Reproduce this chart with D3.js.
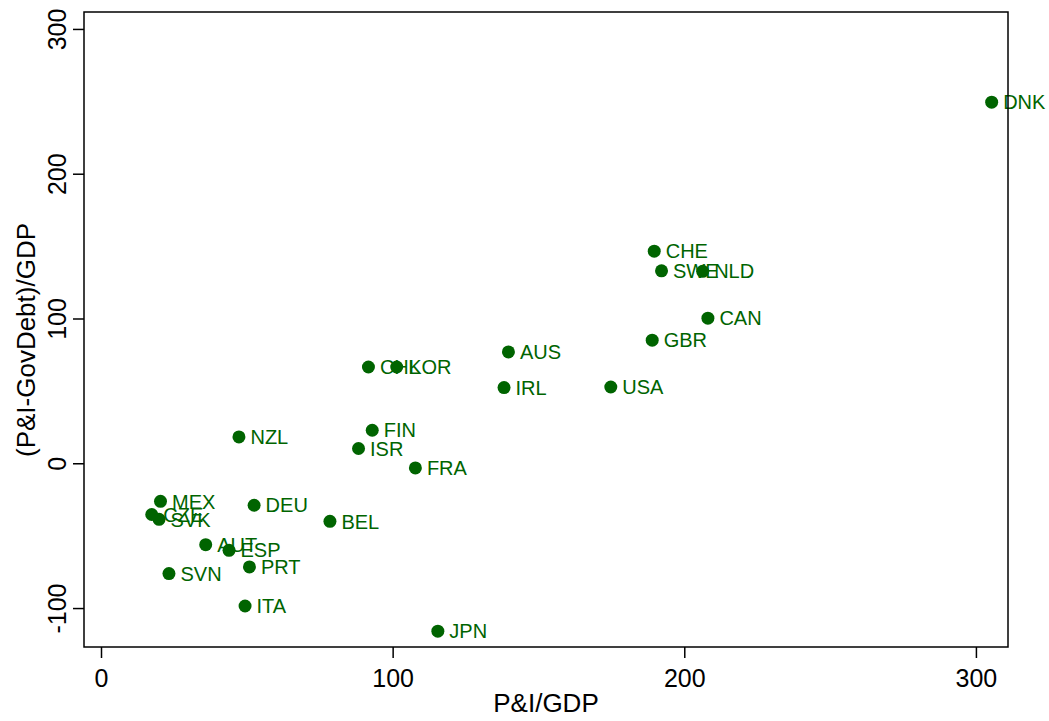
<!DOCTYPE html>
<html>
<head>
<meta charset="utf-8">
<script src="https://d3js.org/d3.v7.min.js"></script>
<style>
  body { margin: 0; background: #fff; }
  text { font-family: "Liberation Sans", Arial, sans-serif; }
</style>
</head>
<body>
<div id="chart"></div>
<script>
// country codes and their values
const countries = ["DNK", "CHE", "SWE", "NLD", "CAN", "GBR", "AUS", "USA", "IRL",
  "CHL", "KOR", "NZL", "FIN", "ISR", "FRA", "MEX", "CZE", "SVK", "DEU", "BEL",
  "AUT", "ESP", "PRT", "SVN", "ITA", "JPN"];
const piGdp = [305.4, 189.7, 192.2, 206.3, 208.1, 189.0, 139.7, 174.8, 138.2,
  91.7, 101.4, 47.3, 93.0, 88.3, 107.8, 20.4, 17.4, 19.9, 52.5, 78.5,
  35.9, 43.9, 50.9, 23.3, 49.4, 115.5];
const netGdp = [249.4, 146.5, 132.9, 132.6, 100.2, 85.0, 76.9, 52.7, 52.3,
  66.5, 66.5, 18.2, 22.8, 10.2, -3.2, -26.3, -35.4, -38.7, -29.0, -40.1,
  -56.2, -60.1, -71.6, -76.2, -98.6, -116.0];
const xTicks = [0, 100, 200, 300];
const yTicks = [-100, 0, 100, 200, 300];

const width = 1049, height = 721;
const frame = {left: 84, right: 1008, top: 12, bottom: 647};
const GREEN = "#006400";
const FONT = "Liberation Sans, Arial, sans-serif";

const svg = d3.select("#chart").append("svg")
    .attr("width", width)
    .attr("height", height);

const x = d3.scaleLinear()
    .domain([-5.83, 311])
    .range([frame.left, frame.right]);
const y = d3.scaleLinear()
    .domain([-126.9, 311.7])
    .range([frame.bottom, frame.top]);

// x axis ticks
svg.append("g")
    .attr("transform", `translate(0, ${frame.bottom})`)
    .call(d3.axisBottom(x).tickValues(xTicks).tickFormat(d => String(d)).tickSize(11).tickSizeOuter(0))
    .call(g => g.select(".domain").remove())
    .call(g => g.selectAll("line").attr("stroke", "#000").attr("stroke-width", 1.5))
    .call(g => g.selectAll("text")
        .attr("y", 40).attr("dy", null)
        .attr("font-size", 25).attr("fill", "#000").attr("font-family", FONT));

// y axis ticks, labels turned like the original
svg.append("g")
    .attr("transform", `translate(${frame.left}, 0)`)
    .call(d3.axisLeft(y).tickValues(yTicks).tickFormat(d => String(d)).tickSize(11).tickSizeOuter(0))
    .call(g => g.select(".domain").remove())
    .call(g => g.selectAll("line").attr("stroke", "#000").attr("stroke-width", 1.5))
    .call(g => g.selectAll("text")
        .attr("x", null).attr("dy", null)
        .attr("transform", "translate(-18, 0) rotate(-90)")
        .style("text-anchor", "middle")
        .attr("font-size", 25).attr("fill", "#000").attr("font-family", FONT));

const pts = countries.map((c, i) => ({name: c, x: piGdp[i], y: netGdp[i]}));

svg.selectAll(".dot")
    .data(pts)
    .enter()
    .append("circle")
    .attr("class", "dot")
    .attr("cx", d => x(d.x))
    .attr("cy", d => y(d.y))
    .attr("r", 6.5)
    .attr("fill", GREEN);

svg.selectAll(".lbl")
    .data(pts)
    .enter()
    .append("text")
    .attr("class", "lbl")
    .attr("x", d => x(d.x) + 11.5)
    .attr("y", d => y(d.y))
    .attr("dy", "0.36em")
    .attr("font-size", 20)
    .attr("fill", GREEN)
    .text(d => d.name);

// plot frame
svg.append("rect")
    .attr("x", frame.left)
    .attr("y", frame.top)
    .attr("width", frame.right - frame.left)
    .attr("height", frame.bottom - frame.top)
    .attr("fill", "none")
    .attr("stroke", "#000")
    .attr("stroke-width", 1.5);

svg.append("text")
    .attr("x", (frame.left + frame.right) / 2)
    .attr("y", 712)
    .style("text-anchor", "middle")
    .attr("font-size", 26)
    .text("P&I/GDP");

svg.append("text")
    .attr("transform", `translate(35, 340) rotate(-90)`)
    .style("text-anchor", "middle")
    .attr("font-size", 26)
    .text("(P&I-GovDebt)/GDP");
</script>
</body>
</html>
